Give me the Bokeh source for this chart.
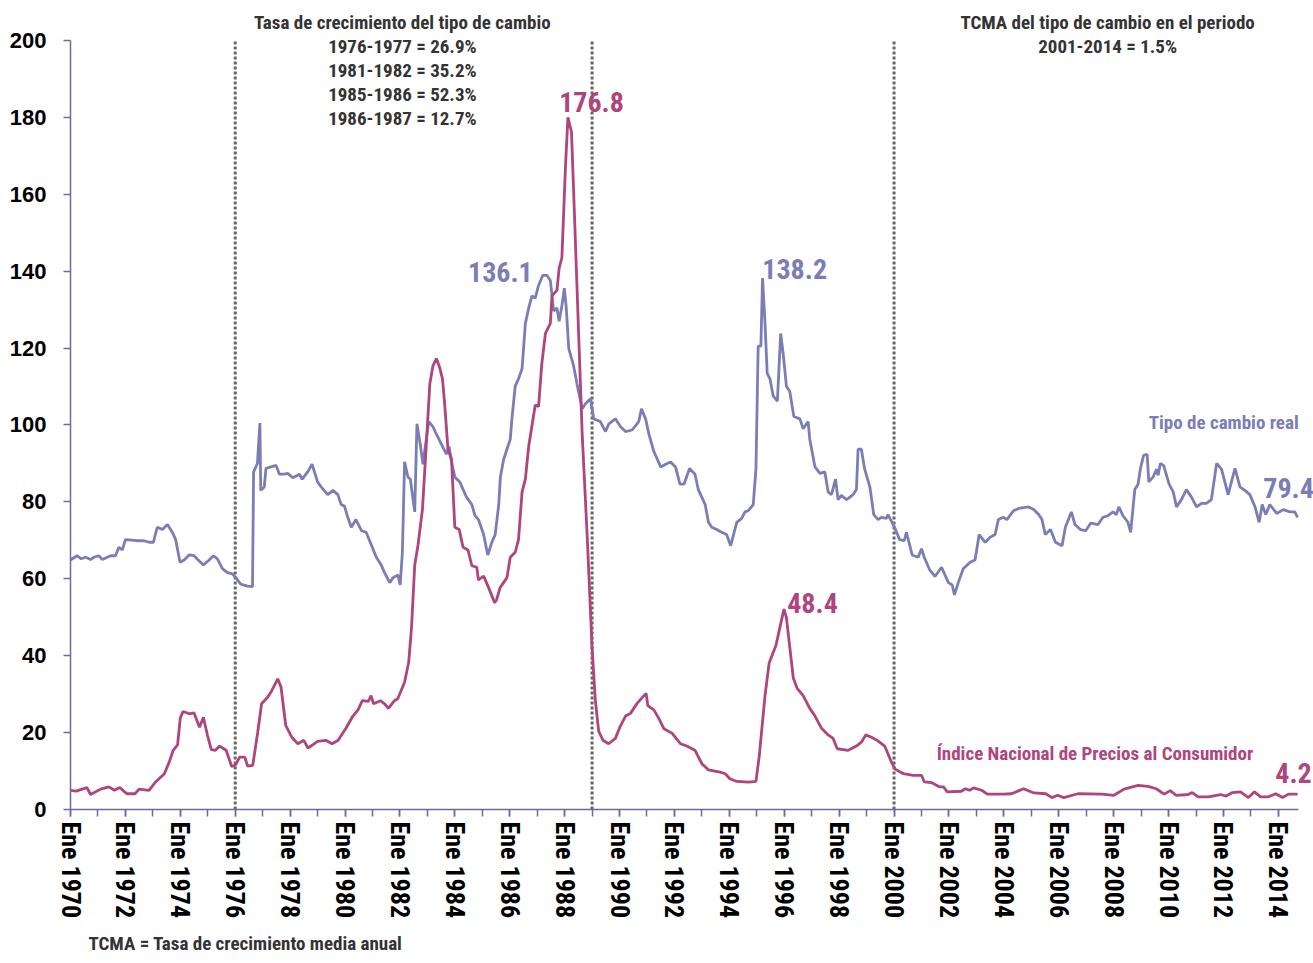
from bokeh.plotting import figure
from bokeh.models import Range1d, FixedTicker, Label, Title
from bokeh.embed import file_html
from bokeh.resources import INLINE

# ---- data (fractional year, value) ----
tcr_fecha = [1970.0, 1970.24, 1970.39, 1970.55, 1970.73, 1970.85, 1971.03, 1971.16, 1971.46, 1971.64,
             1971.76, 1971.89, 1972.0, 1972.43, 1972.68, 1972.86, 1973.02, 1973.16, 1973.35, 1973.53,
             1973.71, 1973.83, 1973.99, 1974.14, 1974.32, 1974.5, 1974.68, 1974.84, 1975.05, 1975.21,
             1975.35, 1975.54, 1975.72, 1975.9, 1976.02, 1976.2, 1976.45, 1976.63, 1976.67, 1976.81,
             1976.9, 1976.93, 1977.06, 1977.12, 1977.49, 1977.61, 1977.79, 1977.91, 1978.1, 1978.34,
             1978.44, 1978.64, 1978.8, 1979.0, 1979.13, 1979.37, 1979.56, 1979.74, 1979.86, 1979.98,
             1980.1, 1980.23, 1980.4, 1980.6, 1980.77, 1980.96, 1981.14, 1981.32, 1981.44, 1981.63,
             1981.75, 1981.93, 1982.01, 1982.09, 1982.17, 1982.29, 1982.38, 1982.54, 1982.62, 1982.74,
             1982.84, 1982.96, 1983.05, 1983.2, 1983.33, 1983.51, 1983.69, 1983.79, 1983.88, 1984.0,
             1984.18, 1984.42, 1984.62, 1984.73, 1984.86, 1985.05, 1985.2, 1985.35, 1985.47, 1985.6,
             1985.66, 1985.78, 1985.9, 1986.02, 1986.08, 1986.2, 1986.32, 1986.45, 1986.57, 1986.69,
             1986.81, 1986.93, 1987.05, 1987.2, 1987.36, 1987.48, 1987.6, 1987.72, 1987.8, 1987.9,
             1987.99, 1988.06, 1988.15, 1988.33, 1988.45, 1988.64, 1988.76, 1988.94, 1989.06, 1989.3,
             1989.49, 1989.61, 1989.85, 1990.03, 1990.22, 1990.46, 1990.7, 1990.8, 1990.95, 1991.07,
             1991.25, 1991.5, 1991.68, 1991.86, 1992.04, 1992.2, 1992.35, 1992.55, 1992.75, 1992.87,
             1993.12, 1993.24, 1993.36, 1993.54, 1993.72, 1993.9, 1994.05, 1994.2, 1994.27, 1994.45,
             1994.57, 1994.69, 1994.87, 1994.97, 1995.05, 1995.15, 1995.21, 1995.3, 1995.38, 1995.48,
             1995.6, 1995.75, 1995.87, 1995.96, 1996.08, 1996.2, 1996.35, 1996.57, 1996.69, 1996.87,
             1996.93, 1997.12, 1997.3, 1997.48, 1997.6, 1997.72, 1997.87, 1997.96, 1998.08, 1998.27,
             1998.51, 1998.63, 1998.69, 1998.81, 1998.93, 1999.12, 1999.26, 1999.42, 1999.54, 1999.72,
             1999.78, 2000.02, 2000.2, 2000.37, 2000.45, 2000.66, 2000.88, 2001.0, 2001.1, 2001.3,
             2001.49, 2001.73, 2001.98, 2002.12, 2002.2, 2002.34, 2002.52, 2002.77, 2002.95, 2003.1,
             2003.32, 2003.5, 2003.68, 2003.8, 2003.99, 2004.11, 2004.35, 2004.54, 2004.9, 2005.09,
             2005.27, 2005.39, 2005.51, 2005.7, 2005.88, 2006.12, 2006.24, 2006.46, 2006.59, 2006.79,
             2006.98, 2007.17, 2007.43, 2007.61, 2007.79, 2007.98, 2008.1, 2008.19, 2008.34, 2008.52,
             2008.62, 2008.77, 2008.89, 2008.97, 2009.09, 2009.22, 2009.28, 2009.44, 2009.56, 2009.62,
             2009.7, 2009.82, 2010.02, 2010.17, 2010.29, 2010.47, 2010.65, 2010.83, 2011.02, 2011.2,
             2011.38, 2011.56, 2011.75, 2011.93, 2012.17, 2012.29, 2012.42, 2012.6, 2012.78, 2012.96,
             2013.15, 2013.3, 2013.41, 2013.54, 2013.69, 2013.94, 2014.18, 2014.42, 2014.6, 2014.7]
tcr_valor = [64.9, 66.0, 65.2, 65.6, 65.0, 65.6, 66.0, 65.0, 66.0, 66.0,
             68.2, 67.5, 70.2, 69.9, 69.9, 69.5, 69.5, 73.4, 72.8, 74.1,
             72.1, 70.2, 64.3, 64.9, 66.2, 66.0, 64.7, 63.6, 64.9, 66.0,
             65.2, 62.6, 61.6, 61.3, 60.3, 58.6, 58.1, 58.0, 87.8, 90.0,
             100.5, 83.0, 83.9, 88.7, 89.5, 87.2, 87.2, 87.4, 86.3, 87.2,
             85.9, 87.8, 89.8, 85.2, 83.9, 81.9, 83.0, 81.9, 79.3, 78.9,
             76.0, 73.4, 75.4, 72.5, 72.1, 68.8, 65.6, 63.6, 61.6, 59.0,
             60.3, 61.0, 58.4, 66.9, 90.4, 86.5, 85.9, 77.4, 100.3, 95.0,
             89.8, 96.3, 100.9, 99.6, 97.6, 95.0, 92.4, 94.4, 90.4, 86.5,
             85.2, 81.3, 79.3, 76.5, 75.4, 71.5, 66.2, 69.5, 71.5, 79.3,
             86.5, 91.1, 93.7, 96.3, 101.6, 110.1, 112.0, 114.7, 126.4, 130.4,
             133.6, 133.0, 136.3, 138.9, 138.9, 137.6, 129.7, 130.4, 127.0, 131.0,
             135.6, 130.4, 119.9, 115.3, 110.7, 104.2, 105.5, 106.8, 101.6, 100.9,
             98.3, 100.3, 101.6, 99.6, 98.3, 98.7, 100.9, 104.2, 101.6, 97.6,
             93.1, 89.1, 89.8, 90.4, 89.1, 84.6, 84.6, 88.7, 87.2, 83.2,
             79.3, 74.7, 73.4, 72.8, 72.1, 71.5, 68.6, 72.8, 74.7, 75.7,
             77.4, 77.7, 79.3, 88.5, 120.5, 120.5, 138.2, 126.4, 113.4, 112.0,
             107.5, 106.2, 123.8, 118.6, 110.1, 108.8, 102.2, 101.6, 99.0, 100.9,
             96.3, 89.1, 87.4, 87.8, 82.6, 81.9, 85.9, 80.6, 81.7, 80.6,
             81.9, 83.2, 93.7, 93.7, 88.5, 83.9, 76.7, 75.4, 76.0, 75.7,
             76.7, 73.4, 70.2, 69.9, 72.1, 66.2, 65.6, 67.8, 65.6, 62.3,
             60.6, 63.0, 59.0, 58.4, 55.8, 59.0, 62.6, 64.3, 64.9, 71.5,
             69.5, 70.8, 71.5, 75.4, 76.0, 75.4, 77.7, 78.3, 78.7, 78.0,
             76.7, 75.4, 71.5, 72.8, 69.5, 68.6, 73.4, 77.4, 74.1, 72.8,
             72.5, 74.5, 74.1, 76.0, 76.4, 77.4, 76.7, 78.7, 76.4, 74.7,
             72.1, 83.2, 84.6, 88.5, 92.1, 92.4, 85.2, 86.5, 88.5, 86.9,
             90.0, 89.5, 84.6, 82.6, 78.7, 80.6, 83.2, 81.3, 78.7, 79.6,
             79.6, 80.6, 90.0, 88.5, 81.9, 85.2, 88.7, 83.9, 83.0, 81.9,
             78.7, 74.7, 79.3, 76.7, 79.3, 77.0, 78.0, 77.4, 77.4, 76.0]

inpc_fecha = [1970.0, 1970.2, 1970.6, 1970.73, 1971.1, 1971.4, 1971.6, 1971.8, 1972.05, 1972.35,
              1972.5, 1972.86, 1973.08, 1973.42, 1973.6, 1973.74, 1973.9, 1974.0, 1974.1, 1974.33,
              1974.5, 1974.7, 1974.84, 1974.99, 1975.13, 1975.28, 1975.43, 1975.67, 1975.87, 1976.0,
              1976.16, 1976.35, 1976.45, 1976.64, 1976.82, 1976.96, 1977.18, 1977.33, 1977.55, 1977.67,
              1977.84, 1978.06, 1978.28, 1978.5, 1978.65, 1978.8, 1979.0, 1979.3, 1979.53, 1979.75,
              1980.04, 1980.26, 1980.48, 1980.63, 1980.85, 1980.95, 1981.04, 1981.29, 1981.44, 1981.58,
              1981.8, 1981.92, 1982.17, 1982.32, 1982.42, 1982.54, 1982.66, 1982.82, 1982.94, 1983.09,
              1983.2, 1983.33, 1983.45, 1983.55, 1983.63, 1983.75, 1983.88, 1984.0, 1984.16, 1984.3,
              1984.48, 1984.62, 1984.8, 1984.86, 1985.05, 1985.23, 1985.45, 1985.52, 1985.65, 1985.9,
              1986.02, 1986.2, 1986.32, 1986.45, 1986.57, 1986.69, 1986.93, 1987.05, 1987.17, 1987.3,
              1987.48, 1987.54, 1987.72, 1987.8, 1987.9, 1988.03, 1988.12, 1988.25, 1988.33, 1988.51,
              1988.64, 1988.82, 1989.0, 1989.12, 1989.24, 1989.4, 1989.6, 1989.85, 1990.03, 1990.22,
              1990.4, 1990.64, 1990.89, 1990.97, 1991.03, 1991.25, 1991.43, 1991.62, 1991.92, 1992.22,
              1992.45, 1992.75, 1993.0, 1993.24, 1993.66, 1993.85, 1994.02, 1994.27, 1994.7, 1994.97,
              1995.09, 1995.3, 1995.45, 1995.7, 1995.84, 1995.99, 1996.08, 1996.33, 1996.47, 1996.69,
              1996.93, 1997.12, 1997.36, 1997.6, 1997.78, 1997.93, 1998.33, 1998.63, 1998.81, 1998.97,
              1999.18, 1999.36, 1999.66, 1999.9, 2000.04, 2000.34, 2000.7, 2001.0, 2001.1, 2001.36,
              2001.65, 2001.8, 2001.94, 2002.45, 2002.6, 2002.75, 2002.9, 2003.19, 2003.4, 2003.99,
              2004.28, 2004.72, 2005.09, 2005.53, 2005.75, 2005.96, 2006.18, 2006.7, 2007.57, 2008.01,
              2008.38, 2008.89, 2009.25, 2009.55, 2009.84, 2010.06, 2010.28, 2010.72, 2010.86, 2011.08,
              2011.45, 2011.89, 2012.1, 2012.33, 2012.62, 2012.91, 2013.13, 2013.35, 2013.64, 2013.9,
              2014.15, 2014.37, 2014.7]
inpc_valor = [5.0, 4.8, 5.7, 3.9, 5.3, 5.9, 5.0, 5.7, 4.1, 4.1,
              5.3, 5.0, 7.0, 9.3, 12.4, 15.4, 16.8, 23.8, 25.5, 24.9,
              25.1, 21.4, 24.0, 19.3, 15.6, 15.4, 16.5, 15.4, 11.2, 11.5,
              13.6, 13.6, 11.3, 11.5, 20.1, 27.5, 29.2, 30.9, 34.0, 31.8,
              21.9, 18.8, 17.1, 18.0, 16.0, 16.7, 17.7, 18.0, 17.1, 18.0,
              21.2, 24.0, 26.0, 28.3, 28.1, 29.6, 27.5, 28.3, 27.5, 26.3,
              28.3, 28.8, 33.1, 38.3, 47.0, 63.6, 68.8, 78.0, 92.4, 110.7,
              115.3, 117.3, 114.9, 112.0, 105.5, 93.7, 91.1, 73.4, 72.8, 68.2,
              67.5, 63.4, 63.0, 59.7, 60.7, 57.7, 53.8, 54.5, 57.7, 60.3,
              65.6, 66.9, 70.2, 82.6, 85.9, 94.4, 105.2, 104.8, 116.0, 123.8,
              126.4, 133.6, 135.0, 140.8, 143.5, 167.0, 180.0, 176.2, 160.5, 123.8,
              97.6, 71.5, 42.0, 28.3, 20.4, 18.0, 17.1, 18.5, 21.7, 24.3,
              25.0, 27.6, 29.6, 30.2, 27.0, 25.9, 23.7, 21.0, 19.8, 17.1,
              16.5, 15.4, 11.9, 10.3, 9.7, 9.3, 8.0, 7.3, 7.1, 7.3,
              13.9, 29.6, 38.1, 42.7, 47.3, 52.1, 49.9, 34.2, 31.5, 29.6,
              26.3, 24.3, 21.1, 19.4, 18.5, 15.8, 15.4, 16.5, 17.5, 19.4,
              18.8, 18.1, 16.5, 12.4, 10.5, 9.3, 8.9, 8.9, 7.2, 7.0,
              5.9, 5.9, 4.6, 4.75, 5.4, 5.0, 5.6, 5.0, 4.0, 4.0,
              4.1, 5.4, 4.3, 4.1, 3.1, 3.7, 3.1, 4.1, 4.0, 3.7,
              5.3, 6.3, 6.0, 5.4, 4.0, 4.9, 3.7, 3.9, 4.4, 3.3,
              3.3, 3.9, 3.5, 4.4, 4.6, 3.1, 4.6, 3.3, 3.3, 4.1,
              3.1, 4.0, 4.0]

anios_ticks = list(range(1970, 2015, 2))
anios_menores = list(range(1970, 2015))
etiquetas_x = {a: f"Ene {a}" for a in anios_ticks}
y_ticks = list(range(0, 201, 20))
cortes = [1976, 1989, 2000]

NARROW = "Roboto Condensed, DejaVu Sans Condensed, Liberation Sans, sans-serif"
BLUE = "#7B7DB6"
PINK = "#B0447C"
AXIS = "#6F6A9C"
DARK = "#333333"

# frame spans the canvas right/top so the notes there stay visible; axes are bounded
p = figure(width=1313, height=963, output_backend="svg", toolbar_location=None, title=None,
           x_range=Range1d(1970.0, 2015.28), y_range=Range1d(0, 210.4),
           min_border_left=70, min_border_right=0, min_border_top=0, min_border_bottom=154)
p.outline_line_color = None
p.xgrid.visible = False
p.ygrid.visible = False

p.xaxis.bounds = (1970, 2014.75)
p.xaxis.ticker = FixedTicker(ticks=anios_ticks, minor_ticks=anios_menores)
p.xaxis.major_label_overrides = etiquetas_x
p.xaxis.major_label_orientation = "vertical"
p.xaxis.major_label_text_font = NARROW
p.xaxis.major_label_text_font_style = "bold"
p.xaxis.major_label_text_font_size = "26px"
p.xaxis.major_label_text_color = "black"
p.xaxis.major_label_standoff = 5
p.xaxis.major_tick_out = 7
p.xaxis.major_tick_in = 0
p.xaxis.minor_tick_out = 7
p.xaxis.minor_tick_in = 0

p.yaxis.bounds = (0, 200)
p.yaxis.ticker = FixedTicker(ticks=y_ticks, minor_ticks=[])
p.yaxis.major_label_text_font = "Liberation Sans"
p.yaxis.major_label_text_font_style = "bold"
p.yaxis.major_label_text_font_size = "22px"
p.yaxis.major_label_text_color = "black"
p.yaxis.major_label_standoff = 17
p.yaxis.major_tick_out = 7
p.yaxis.major_tick_in = 0

for ax in (p.xaxis[0], p.yaxis[0]):
    ax.axis_line_color = AXIS
    ax.axis_line_width = 1.5
    ax.major_tick_line_color = AXIS
    ax.major_tick_line_width = 1.5
    ax.minor_tick_line_color = AXIS
    ax.minor_tick_line_width = 1.5

# dotted period separators (full height of the 0-200 scale)
p.segment(x0=cortes, y0=[0] * len(cortes), x1=cortes, y1=[200] * len(cortes),
          line_color="#666666", line_width=3, line_dash="3 2")

p.line(tcr_fecha, tcr_valor, line_color=BLUE, line_width=2.8)
p.line(inpc_fecha, inpc_valor, line_color=PINK, line_width=2.8)


def lab(x, y, text, color, size, align="center", baseline="middle"):
    p.add_layout(Label(x=x, y=y, text=text, text_color=color, text_font=NARROW,
                       text_font_style="bold", text_font_size=size,
                       text_align=align, text_baseline=baseline))


# value callouts
lab(1985.66, 139.7, "136.1", BLUE, "28px")
lab(1988.98, 183.9, "176.8", PINK, "28px")
lab(1996.38, 140.7, "138.2", BLUE, "28px")
lab(1997.03, 53.8, "48.4", PINK, "28px")
lab(2014.37, 83.7, "79.4", BLUE, "28px")
lab(2014.55, 9.4, "4.2", PINK, "28px")

# series names
lab(2014.74, 100.65, "Tipo de cambio real", BLUE, "19px", align="right")
lab(2007.32, 14.6, "Índice Nacional de Precios al Consumidor", PINK, "19px")

# header notes
lab(1982.09, 204.7, "Tasa de crecimiento del tipo de cambio", DARK, "19px")
lab(1982.09, 198.4, "1976-1977 = 26.9%", DARK, "19px")
lab(1982.09, 192.2, "1981-1982 = 35.2%", DARK, "19px")
lab(1982.09, 186.0, "1985-1986 = 52.3%", DARK, "19px")
lab(1982.09, 179.7, "1986-1987 = 12.7%", DARK, "19px")
lab(2007.78, 204.7, "TCMA del tipo de cambio en el periodo", DARK, "19px")
lab(2007.78, 198.4, "2001-2014 = 1.5%", DARK, "19px")

# footnote below the axis
p.add_layout(Title(text="TCMA = Tasa de crecimiento media anual", align="left", offset=18,
                   standoff=17, text_font=NARROW, text_font_style="bold",
                   text_font_size="19px", text_color=DARK), "below")

open("out.html", "w").write(file_html(p, INLINE))
